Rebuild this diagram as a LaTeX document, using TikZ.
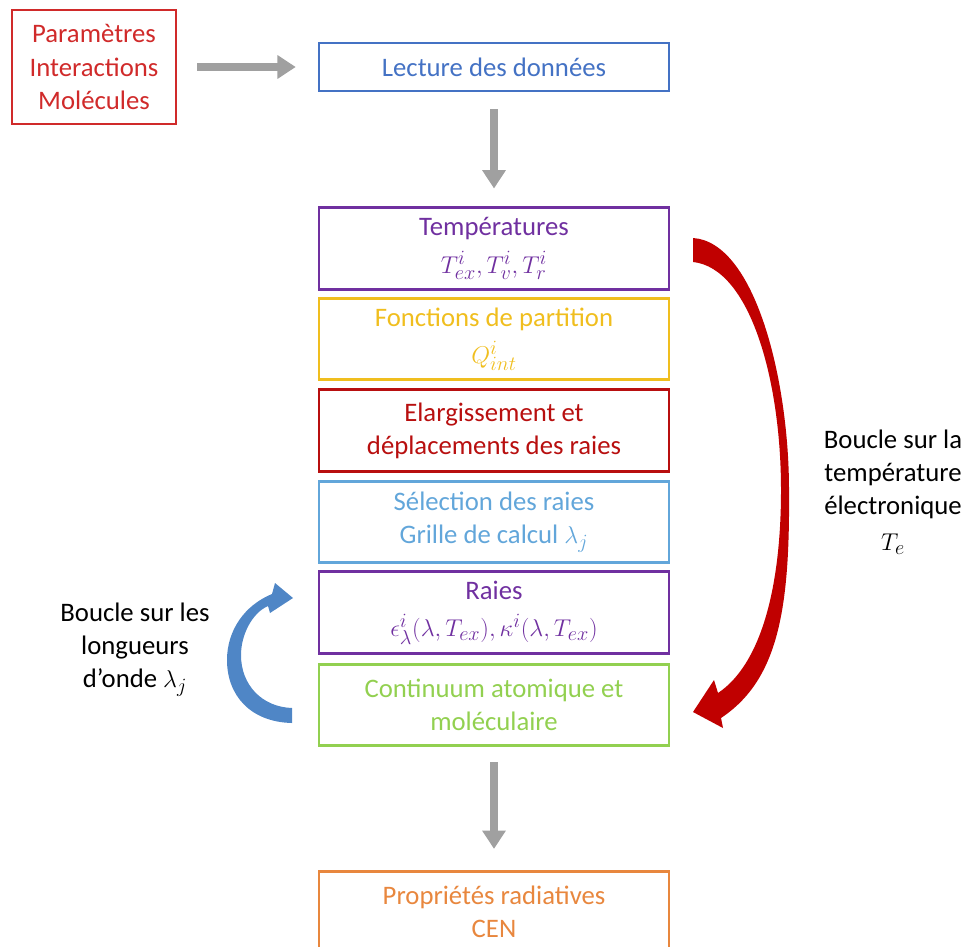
\documentclass[tikz,border=0pt]{standalone}
\usepackage{fontspec}
\setmainfont{Carlito}
\usetikzlibrary{arrows.meta}

\definecolor{paramrouge}{HTML}{D02A2A}
\definecolor{lecbleu}{HTML}{4472C4}
\definecolor{violet}{HTML}{7030A0}
\definecolor{jaune}{HTML}{F0BE1E}
\definecolor{rougefonce}{HTML}{B80F0F}
\definecolor{bleuclair}{HTML}{62A6DA}
\definecolor{vert}{HTML}{92D050}
\definecolor{orange}{HTML}{E8873E}
\definecolor{flechegris}{HTML}{A0A0A0}
\definecolor{flecherouge}{HTML}{C00000}
\definecolor{flechebleu}{HTML}{4F86C6}

\tikzset{
  etape/.style={draw=#1, text=#1, line width=2pt, minimum width=8.75cm,
    minimum height=2.03cm, align=center, inner sep=0pt,
    font=\fontsize{19}{23.5}\selectfont},
  fleche/.style={draw=flechegris, line width=5pt,
    -{Triangle[length=13pt,width=16pt]}},
  legende/.style={align=center, font=\fontsize{19}{23.5}\selectfont}
}

\begin{document}
\begin{tikzpicture}[x=0.025cm, y=-0.025cm]
  \clip (0,0) rectangle (964,946);
  % entrees
  \node[etape=paramrouge, minimum width=4.1cm, minimum height=2.85cm] (param) at (94,67) {Paramètres\\Interactions\\Molécules};
  \node[etape=lecbleu, minimum height=1.2cm] (lecture) at (494,67) {Lecture des données};
  % etapes du calcul
  \node[etape=violet]     (temp)  at (494,248.5) {Températures\\[3pt]$T_{ex}^i, T_v^i, T_r^i$};
  \node[etape=jaune]      (fonc)  at (494,339)   {Fonctions de partition\\[3pt]$Q_{int}^i$};
  \node[etape=rougefonce] (elarg) at (494,430.5) {Elargissement et\\déplacements des raies};
  \node[etape=bleuclair]  (selec) at (494,522)   {Sélection des raies\\Grille de calcul $\lambda_j$};
  \node[etape=violet]     (raies) at (494,612.5) {Raies\\[3pt]$\epsilon_\lambda^i(\lambda, T_{ex}), \kappa^i(\lambda, T_{ex})$};
  \node[etape=vert]       (cont)  at (494,705)   {Continuum atomique et\\moléculaire};
  \node[etape=orange]     (prop)  at (494,912)   {Propriétés radiatives\\CEN};
  % fleches grises
  \draw[fleche, shorten <=14pt, shorten >=15.5pt] (param) -- (lecture);
  \draw[fleche, shorten <=12pt, shorten >=12.8pt] (lecture) -- (temp);
  \draw[fleche, shorten <=10.7pt, shorten >=15pt] (cont) -- (prop);
  % boucle sur Te
  \fill[flecherouge] (693,238) .. controls (755,242) and (789,380) .. (789,490)
    .. controls (790,610) and (778,680) .. (721,718)
    -- (723,728) -- (693,712) -- (714,680) -- (718,693)
    .. controls (760,665) and (781,590) .. (781,490)
    .. controls (781,380) and (750,268) .. (693,262) -- cycle;
  \node[legende] (boucleTe) at (893,492) {Boucle sur la\\température\\électronique\\[2pt]$T_e$};
  % boucle sur lambda
  \fill[flechebleu] (292,723) .. controls (250,722) and (227,695) .. (227,660)
    .. controls (227,630) and (245,605) .. (272,594)
    -- (275,583) -- (293,598) -- (270,613) -- (268,606)
    .. controls (252,613) and (241,635) .. (241,655)
    .. controls (241,685) and (262,707) .. (292,708) -- cycle;
  \node[legende] (boucleLambda) at (135,650) {Boucle sur les\\longueurs\\d'onde $\lambda_j$};
\end{tikzpicture}
\end{document}
